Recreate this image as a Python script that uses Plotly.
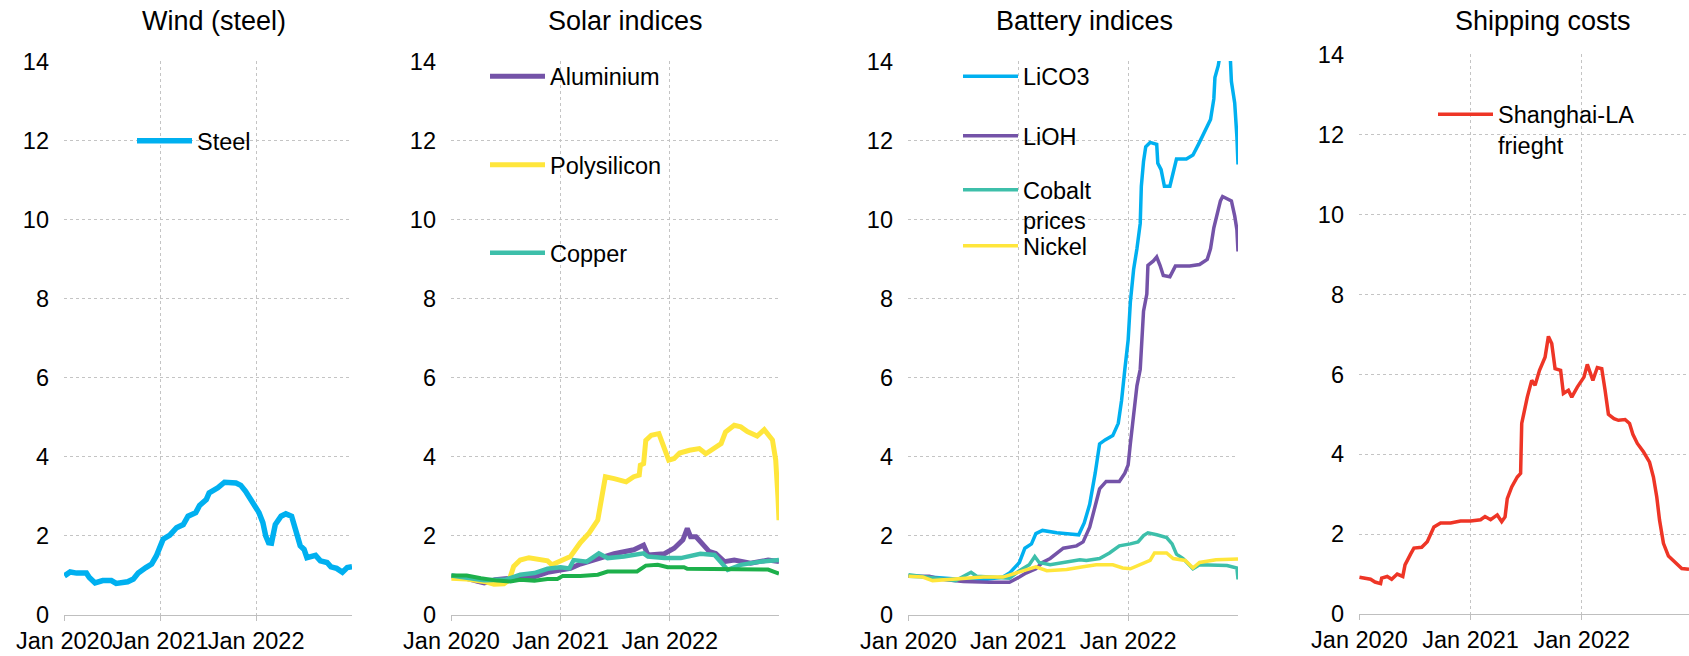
import plotly.graph_objects as go

W, H = 1689, 656
FONT = "Liberation Sans, Arial, sans-serif"

# ---------------- data (x = decimal year) ----------------
steel_x = [2020.0, 2020.06, 2020.128, 2020.23, 2020.26, 2020.32, 2020.40, 2020.49, 2020.54, 2020.66,
           2020.72, 2020.77, 2020.85, 2020.91, 2020.96, 2020.99, 2021.03, 2021.10, 2021.17, 2021.24,
           2021.29, 2021.37, 2021.41, 2021.48, 2021.51, 2021.60, 2021.67, 2021.79, 2021.84, 2021.89,
           2021.93, 2021.98, 2022.03, 2022.07, 2022.10, 2022.13, 2022.16, 2022.20, 2022.26, 2022.31,
           2022.37, 2022.41, 2022.46, 2022.50, 2022.53, 2022.62, 2022.67, 2022.74, 2022.78, 2022.84,
           2022.90, 2022.95, 2023.0]
steel_v = [0.99, 1.09, 1.06, 1.06, 0.95, 0.81, 0.87, 0.87, 0.80, 0.84,
           0.91, 1.06, 1.20, 1.29, 1.50, 1.66, 1.92, 2.02, 2.21, 2.29,
           2.50, 2.59, 2.77, 2.92, 3.09, 3.22, 3.36, 3.34, 3.28, 3.13,
           2.97, 2.77, 2.59, 2.34, 2.00, 1.83, 1.82, 2.29, 2.50, 2.56,
           2.50, 2.17, 1.75, 1.66, 1.45, 1.51, 1.37, 1.33, 1.22, 1.18,
           1.08, 1.20, 1.22]

alu_x = [2020.0, 2020.14, 2020.24, 2020.30, 2020.40, 2020.51, 2020.63, 2020.76, 2020.88, 2021.0,
         2021.09, 2021.18, 2021.34, 2021.49, 2021.67, 2021.76, 2021.80, 2021.95, 2022.04, 2022.12,
         2022.16, 2022.19, 2022.24, 2022.30, 2022.36, 2022.42, 2022.50, 2022.59, 2022.74, 2022.90, 2023.0]
alu_v = [0.99, 0.93, 0.85, 0.81, 0.89, 0.93, 0.96, 0.97, 1.08, 1.14,
         1.18, 1.29, 1.44, 1.55, 1.65, 1.77, 1.52, 1.55, 1.69, 1.90,
         2.19, 1.98, 1.98, 1.77, 1.61, 1.56, 1.35, 1.39, 1.31, 1.39, 1.35]

poly_x = [2020.0, 2020.14, 2020.30, 2020.39, 2020.48, 2020.53, 2020.57, 2020.63, 2020.71, 2020.79,
          2020.88, 2020.92, 2021.0, 2021.09, 2021.18, 2021.26, 2021.34, 2021.38, 2021.41, 2021.49,
          2021.55, 2021.60, 2021.67, 2021.72, 2021.73, 2021.76, 2021.78, 2021.83, 2021.90, 2021.95,
          2021.99, 2022.04, 2022.09, 2022.18, 2022.27, 2022.33, 2022.41, 2022.47, 2022.51, 2022.59,
          2022.65, 2022.71, 2022.80, 2022.865, 2022.94, 2022.97, 2022.99, 2023.0]
poly_v = [0.93, 0.91, 0.85, 0.78, 0.79, 0.89, 1.23, 1.39, 1.45, 1.41,
          1.37, 1.27, 1.37, 1.48, 1.83, 2.07, 2.40, 2.99, 3.50, 3.45,
          3.41, 3.37, 3.50, 3.54, 3.79, 3.83, 4.42, 4.55, 4.59, 4.17,
          3.92, 3.96, 4.10, 4.17, 4.21, 4.08, 4.25, 4.34, 4.63, 4.80,
          4.76, 4.64, 4.53, 4.69, 4.43, 3.92, 3.00, 2.40]

copper_x = [2020.0, 2020.30, 2020.50, 2020.63, 2020.76, 2020.88, 2021.0, 2021.08, 2021.12, 2021.24,
            2021.35, 2021.43, 2021.58, 2021.76, 2021.80, 2021.95, 2022.10, 2022.28, 2022.41, 2022.53,
            2022.65, 2022.83, 2023.0]
copper_v = [1.00, 0.88, 0.90, 1.02, 1.06, 1.17, 1.21, 1.18, 1.39, 1.35,
            1.56, 1.44, 1.48, 1.56, 1.48, 1.44, 1.44, 1.55, 1.52, 1.14,
            1.27, 1.35, 1.39]

other_x = [2020.0, 2020.14, 2020.27, 2020.42, 2020.54, 2020.63, 2020.76, 2020.88, 2020.97, 2021.02,
           2021.18, 2021.34, 2021.43, 2021.70, 2021.78, 2021.89, 2021.98, 2022.13, 2022.16, 2022.65,
           2022.90, 2022.95, 2023.0]
other_v = [1.00, 1.00, 0.93, 0.87, 0.85, 0.89, 0.87, 0.91, 0.91, 0.99,
           0.99, 1.02, 1.10, 1.10, 1.25, 1.27, 1.21, 1.21, 1.17, 1.17,
           1.15, 1.10, 1.05]

lico3_x = [2020.0, 2020.19, 2020.43, 2020.62, 2020.86, 2020.92, 2021.01, 2021.06, 2021.12, 2021.16,
           2021.22, 2021.35, 2021.47, 2021.55, 2021.60, 2021.65, 2021.70, 2021.74, 2021.79, 2021.86,
           2021.91, 2021.94, 2021.97, 2022.00, 2022.02, 2022.05, 2022.08, 2022.11, 2022.12, 2022.14,
           2022.16, 2022.20, 2022.26, 2022.27, 2022.30, 2022.33, 2022.38, 2022.41, 2022.44, 2022.53,
           2022.59, 2022.64, 2022.70, 2022.75, 2022.78, 2022.79, 2022.82, 2022.85, 2022.90, 2022.93,
           2022.94, 2022.97, 2022.99, 2023.0]
lico3_v = [0.98, 0.96, 0.91, 0.87, 0.96, 1.06, 1.33, 1.69, 1.80, 2.06,
           2.14, 2.08, 2.05, 2.03, 2.33, 2.80, 3.59, 4.33, 4.43, 4.54,
           4.85, 5.43, 6.22, 6.96, 7.91, 8.75, 9.27, 9.91, 10.85, 11.48,
           11.85, 11.96, 11.91, 11.43, 11.27, 10.85, 10.85, 11.17, 11.54, 11.54,
           11.64, 11.91, 12.27, 12.54, 13.06, 13.60, 13.90, 14.40, 14.40, 14.10,
           13.50, 12.96, 12.10, 11.40]

lioh_x = [2020.0, 2020.19, 2020.28, 2020.50, 2020.74, 2020.92, 2021.01, 2021.07, 2021.16, 2021.22,
          2021.29, 2021.35, 2021.41, 2021.53, 2021.59, 2021.65, 2021.71, 2021.74, 2021.80, 2021.92,
          2021.97, 2022.00, 2022.02, 2022.05, 2022.08, 2022.11, 2022.12, 2022.14, 2022.17, 2022.18,
          2022.23, 2022.26, 2022.29, 2022.32, 2022.38, 2022.43, 2022.56, 2022.65, 2022.72, 2022.75,
          2022.78, 2022.80, 2022.84, 2022.86, 2022.94, 2022.97, 2022.99, 2023.0]
lioh_v = [0.98, 0.98, 0.91, 0.85, 0.83, 0.83, 0.96, 1.06, 1.17, 1.33,
          1.43, 1.57, 1.69, 1.75, 1.85, 2.22, 2.85, 3.19, 3.38, 3.38,
          3.59, 3.80, 4.33, 5.17, 5.80, 6.22, 6.85, 7.69, 8.12, 8.85,
          8.96, 9.06, 8.85, 8.59, 8.56, 8.83, 8.83, 8.87, 9.00, 9.27,
          9.80, 10.00, 10.48, 10.59, 10.48, 10.10, 9.75, 9.20]

cobalt_x = [2020.0, 2020.19, 2020.43, 2020.57, 2020.62, 2020.74, 2020.92, 2021.01, 2021.10, 2021.15,
            2021.19, 2021.29, 2021.44, 2021.56, 2021.62, 2021.74, 2021.83, 2021.92, 2022.02, 2022.09,
            2022.14, 2022.18, 2022.26, 2022.35, 2022.40, 2022.44, 2022.50, 2022.55, 2022.59, 2022.65,
            2022.84, 2022.90, 2022.99, 2023.0]
cobalt_v = [1.02, 0.96, 0.87, 1.08, 0.98, 0.96, 0.93, 1.12, 1.27, 1.48,
            1.33, 1.27, 1.33, 1.40, 1.38, 1.43, 1.57, 1.75, 1.80, 1.85,
            2.01, 2.08, 2.03, 1.96, 1.80, 1.54, 1.43, 1.27, 1.17, 1.27,
            1.27, 1.25, 1.19, 0.90]

nickel_x = [2020.0, 2020.13, 2020.22, 2020.43, 2020.68, 2020.86, 2020.98, 2021.10, 2021.16, 2021.26,
            2021.44, 2021.59, 2021.71, 2021.86, 2021.95, 2022.02, 2022.11, 2022.20, 2022.24, 2022.35,
            2022.41, 2022.52, 2022.59, 2022.65, 2022.80, 2023.0]
nickel_v = [0.98, 0.96, 0.87, 0.91, 0.96, 0.96, 1.06, 1.17, 1.22, 1.12,
            1.15, 1.22, 1.27, 1.27, 1.19, 1.17, 1.27, 1.38, 1.57, 1.57,
            1.43, 1.38, 1.19, 1.33, 1.40, 1.42]

freight_x = [2020.0, 2020.10, 2020.14, 2020.19, 2020.20, 2020.25, 2020.29, 2020.34, 2020.39, 2020.41,
             2020.46, 2020.49, 2020.56, 2020.61, 2020.67, 2020.73, 2020.82, 2020.91, 2021.0, 2021.09,
             2021.13, 2021.18, 2021.24, 2021.28, 2021.31, 2021.33, 2021.37, 2021.42, 2021.45, 2021.46,
             2021.51, 2021.55, 2021.58, 2021.62, 2021.67, 2021.70, 2021.73, 2021.76, 2021.81, 2021.835,
             2021.88, 2021.91, 2021.96, 2022.02, 2022.05, 2022.10, 2022.14, 2022.18, 2022.21, 2022.24,
             2022.29, 2022.33, 2022.39, 2022.43, 2022.46, 2022.50, 2022.555, 2022.61, 2022.645, 2022.675,
             2022.70, 2022.735, 2022.78, 2022.85, 2022.90, 2022.965]
freight_v = [0.92, 0.87, 0.80, 0.76, 0.90, 0.94, 0.87, 1.00, 0.94, 1.23,
             1.50, 1.65, 1.67, 1.81, 2.18, 2.28, 2.28, 2.33, 2.33, 2.36,
             2.44, 2.36, 2.48, 2.31, 2.43, 2.89, 3.18, 3.43, 3.52, 4.77,
             5.43, 5.85, 5.73, 6.10, 6.43, 6.95, 6.77, 6.14, 6.10, 5.52,
             5.60, 5.43, 5.68, 5.93, 6.25, 5.85, 6.17, 6.14, 5.60, 5.00,
             4.89, 4.85, 4.87, 4.77, 4.50, 4.27, 4.06, 3.80, 3.43, 2.93,
             2.35, 1.77, 1.45, 1.27, 1.14, 1.12]

tick_years = [2020, 2021, 2022]
tick_labels = ["Jan 2020", "Jan 2021", "Jan 2022"]
y_ticks = [0, 2, 4, 6, 8, 10, 12, 14]
titles = ["Wind (steel)", "Solar indices", "Battery indices", "Shipping costs"]

# ---------------- colours ----------------
BLUE = "#00B0F0"
PURPLE = "#7453A8"
YELLOW = "#FFE63B"
TEAL = "#3DBFAA"
GREEN = "#1DB04B"
RED = "#EE3526"
GRID = "#C4C4C4"
AXIS = "#BFBFBF"

# ---------------- panel geometry (pixels) ----------------
panels = [
    dict(x0=64, x1=352, top=61, bottom=615, xend=2023.0, title_x=214),
    dict(x0=451, x1=779, top=61, bottom=615, xend=2023.0, title_x=625),
    dict(x0=908, x1=1238, top=61, bottom=615, xend=2023.0, title_x=1084),
    dict(x0=1359, x1=1689, top=54, bottom=614, xend=2022.965, title_x=1543),
]

fig = go.Figure()

# series: (x, y, name, colour, width, panel, legend id or None)
series = [
    (steel_x, steel_v, "Steel", BLUE, 5.5, 1, 1),
    (alu_x, alu_v, "Aluminium", PURPLE, 5, 2, 2),
    (poly_x, poly_v, "Polysilicon", YELLOW, 5, 2, 3),
    (copper_x, copper_v, "Copper", TEAL, 4.5, 2, 4),
    (other_x, other_v, "Other", GREEN, 4, 2, None),
    (lico3_x, lico3_v, "LiCO3", BLUE, 3.5, 3, 5),
    (lioh_x, lioh_v, "LiOH", PURPLE, 3.5, 3, 6),
    (cobalt_x, cobalt_v, "Cobalt<br>prices", TEAL, 3.5, 3, 7),
    (nickel_x, nickel_v, "Nickel", YELLOW, 3.5, 3, 8),
    (freight_x, freight_v, "Shanghai-LA<br>frieght", RED, 3.5, 4, 9),
]

for xs, ys, name, col, w, p, leg in series:
    sfx = "" if p == 1 else str(p)
    kw = dict(x=xs, y=ys, mode="lines", name=name,
              line=dict(color=col, width=w),
              xaxis="x" + sfx, yaxis="y" + sfx, hoverinfo="x+y")
    if leg is None:
        kw["showlegend"] = False
    else:
        kw["showlegend"] = True
        kw["legend"] = "legend" if leg == 1 else "legend%d" % leg
    fig.add_trace(go.Scatter(**kw))

layout = dict(
    width=W, height=H,
    margin=dict(l=0, r=0, t=0, b=0, pad=0, autoexpand=False),
    paper_bgcolor="white", plot_bgcolor="white",
    font=dict(family=FONT, size=23.5, color="#000000"),
    annotations=[], shapes=[],
)

for i, p in enumerate(panels, start=1):
    sfx = "" if i == 1 else str(i)
    xd = [p["x0"] / W, min(p["x1"] / W, 1.0)]
    yd = [1 - p["bottom"] / H, 1 - p["top"] / H]
    layout["xaxis" + sfx] = dict(
        domain=xd, anchor="y" + sfx, range=[2019.996, p["xend"]],
        tickmode="array", tickvals=tick_years, ticktext=tick_labels, tickangle=0,
        showgrid=True, gridcolor=GRID, griddash="dot", gridwidth=1,
        showline=True, linecolor=AXIS, linewidth=1.3,
        ticks="outside", ticklen=5, tickcolor=AXIS, tickwidth=1.3,
        zeroline=False, tickfont=dict(size=23.5, color="#000000"),
        ticklabelstandoff=0, automargin=False,
    )
    layout["yaxis" + sfx] = dict(
        domain=yd, anchor="x" + sfx, range=[0, 14.02],
        tickmode="array", tickvals=y_ticks,
        showgrid=True, gridcolor=GRID, griddash="dot", gridwidth=1,
        showline=False, zeroline=False, ticks="",
        tickfont=dict(size=23.5, color="#000000"),
        ticklabelstandoff=14, automargin=False,
    )
    layout["annotations"].append(dict(
        text=titles[i - 1], x=p["title_x"] / W, y=1 - 21.5 / H,
        xref="paper", yref="paper", xanchor="center", yanchor="middle",
        showarrow=False, font=dict(size=27, color="#000000", family=FONT)))

# legend placements: (text left x px, centre y px)
ITEM_W = 55
leg_pos = {
    1: (197, 141),
    2: (550, 76.5),
    3: (550, 165),
    4: (550, 253),
    5: (1023, 76.5),
    6: (1023, 136),
    7: (1023, 205.5),
    8: (1023, 246),
    9: (1498, 130),
}
for k, (tx, ty) in leg_pos.items():
    key = "legend" if k == 1 else "legend%d" % k
    layout[key] = dict(
        x=(tx - ITEM_W - 10) / W, y=1 - ty / H, xanchor="left", yanchor="middle",
        xref="paper", yref="paper", itemwidth=ITEM_W,
        bgcolor="rgba(0,0,0,0)", borderwidth=0,
        font=dict(size=23.5, color="#000000", family=FONT),
        valign="top", itemclick=False, itemdoubleclick=False,
    )

fig.update_layout(**layout)
fig.write_html(
    "out.html",
    config={"displayModeBar": False},
    post_script="document.body.style.margin='0';document.body.style.overflow='hidden';",
)
